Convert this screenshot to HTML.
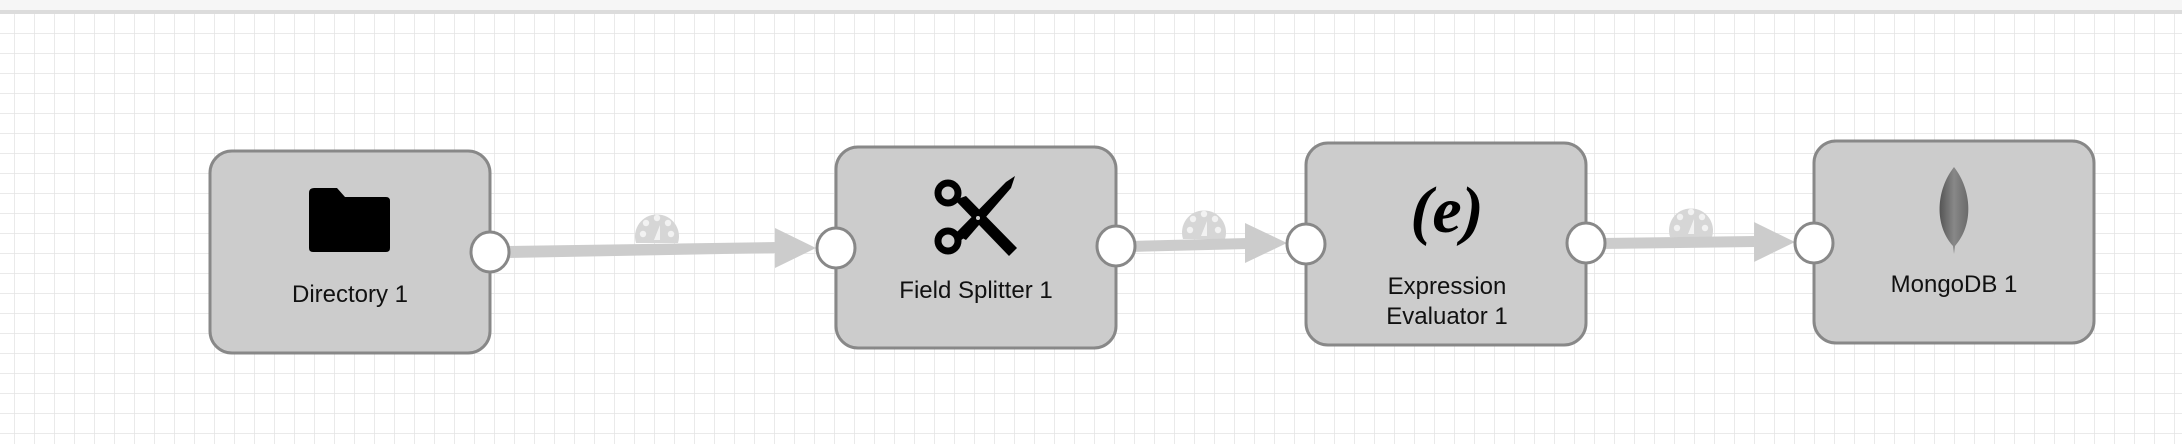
<!DOCTYPE html>
<html><head><meta charset="utf-8"><style>
html,body{margin:0;padding:0;width:2182px;height:444px;overflow:hidden;background:#fff}
svg{display:block}
text{font-family:"Liberation Sans",Arial,sans-serif;font-size:24px;fill:#111}
</style></head><body>
<svg width="2182" height="444" viewBox="0 0 2182 444" xmlns="http://www.w3.org/2000/svg">
<defs>
<pattern id="g" x="14" y="13" width="20" height="20" patternUnits="userSpaceOnUse">
<path d="M0 0H20M0 0V20" stroke="#e4e4e4" stroke-width="1.6" fill="none"/>
</pattern>
<g id="gauge">
<path d="M-21 12 A22 22 0 1 1 21 12 Z" fill="#d6d6d6"/>
<circle cx="0" cy="-13" r="3.2" fill="#f2f2f2"/>
<circle cx="-11" cy="-8" r="3.2" fill="#f2f2f2"/>
<circle cx="11" cy="-8" r="3.2" fill="#f2f2f2"/>
<circle cx="-14" cy="3" r="3.2" fill="#f2f2f2"/>
<circle cx="14" cy="3" r="3.2" fill="#f2f2f2"/>
<path d="M3 -6 L-3 9 L3 9 Z" fill="#f2f2f2"/>
</g>
</defs>
<rect width="2182" height="444" fill="#fff"/>
<rect y="14" width="2182" height="430" fill="url(#g)"/>
<rect width="2182" height="10" fill="#f6f6f6"/>
<rect y="10" width="2182" height="4" fill="#dcdcdc"/>

<!-- connectors -->
<use href="#gauge" x="657" y="231"/>
<polygon points="505,246 778,242 778,253 505,258" fill="#cccccc"/>
<polygon points="775,228 816,248 775,268" fill="#cccccc"/>

<use href="#gauge" x="1204" y="227"/>
<polygon points="1130,241 1248,238 1248,249 1130,252" fill="#cccccc"/>
<polygon points="1245,223 1287,243 1245,263" fill="#cccccc"/>

<use href="#gauge" x="1691" y="225"/>
<polygon points="1600,238 1756,236 1756,247 1600,249" fill="#cccccc"/>
<polygon points="1754,222 1795,242 1754,262" fill="#cccccc"/>

<!-- nodes -->
<g stroke="#888" stroke-width="3" fill="#cccccc">
<rect x="210" y="151" width="280" height="202" rx="22"/>
<rect x="836" y="147" width="280" height="201" rx="22"/>
<rect x="1306" y="143" width="280" height="202" rx="22"/>
<rect x="1814" y="141" width="280" height="202" rx="22"/>
</g>
<!-- ports -->
<g stroke="#888" stroke-width="3" fill="#fff">
<ellipse cx="490" cy="252" rx="19" ry="20"/>
<ellipse cx="836" cy="248" rx="19" ry="20"/>
<ellipse cx="1116" cy="246" rx="19" ry="20"/>
<ellipse cx="1306" cy="244" rx="19" ry="20"/>
<ellipse cx="1586" cy="243" rx="19" ry="20"/>
<ellipse cx="1814" cy="243" rx="19" ry="20"/>
</g>

<!-- folder -->
<path d="M314 188 H337 L345 197 H386 Q390 197 390 201 V248 Q390 252 386 252 H313 Q309 252 309 248 V193 Q309 188 314 188 Z" fill="#000"/>
<text x="350" y="302" text-anchor="middle">Directory 1</text>

<!-- scissors -->
<g fill="none" stroke="#000" stroke-width="7">
<circle cx="948" cy="193" r="10"/>
<circle cx="948" cy="241" r="10"/>
</g>
<path d="M955 200 L1009 256 L1017 248 L966 196 Z" fill="#000"/>
<path d="M955 234 L1006 182 L1015 176 L1011 188 L966 240 Z" fill="#000"/>
<path d="M956 234 L968 225 L972 232 L960 241 Z" fill="#000"/>
<circle cx="978" cy="218" r="2" fill="#ccc"/>
<text x="976" y="298" text-anchor="middle">Field Splitter 1</text>

<!-- (e) -->
<text x="1447" y="232" text-anchor="middle" style="font-family:'Liberation Serif',serif;font-style:italic;font-weight:bold;font-size:66px;fill:#000">(e)</text>
<text x="1447" y="294" text-anchor="middle">Expression</text>
<text x="1447" y="324" text-anchor="middle">Evaluator 1</text>

<!-- leaf -->
<defs><linearGradient id="lf" x1="0" x2="1"><stop offset="0" stop-color="#555"/><stop offset="0.5" stop-color="#888"/><stop offset="1" stop-color="#6a6a6a"/></linearGradient></defs>
<path d="M1954 167 C1936 190 1934 225 1953 246 L1954 254 L1955 246 C1974 225 1972 190 1954 167 Z" fill="url(#lf)"/>
<text x="1954" y="292" text-anchor="middle">MongoDB 1</text>
</svg>
</body></html>
